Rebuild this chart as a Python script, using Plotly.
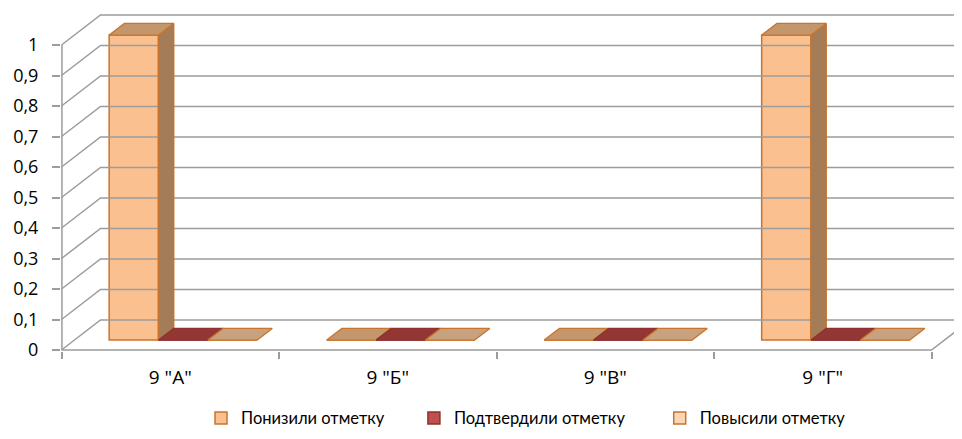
import plotly.graph_objects as go

categories = ['9 "А"', '9 "Б"', '9 "В"', '9 "Г"']
series_names = ["Понизили отметку", "Подтвердили отметку", "Повысили отметку"]
ponizili = [1, 0, 0, 1]
podtverdili = [0, 0, 0, 0]
povysili = [0, 0, 0, 0]
y_ticks = [0, 0.1, 0.2, 0.3, 0.4, 0.5, 0.6, 0.7, 0.8, 0.9, 1]

values = [ponizili, podtverdili, povysili]
front_col = ["#FAC090", "#C0504D", "#FCD5B5"]
top_col = ["#C4966C", "#943634", "#C8A27F"]
side_col = ["#A57C58", "#7A2B29", "#A88B70"]
edge_col = ["#C8742C", "#8C3230", "#C8742C"]

# fake 3d: depth offsets in axis units (full depth of the box)
DX, DY = 39 / 217.5, 30 / 305
d0, d1 = 0.33, 0.72
bw = 0.2267
start = -0.34

grid = "#9c9c9c"
fig = go.Figure()

# walls: left side diagonals and back gridlines
xs, ys = [], []
for v in y_ticks:
    xs += [-0.5, -0.5 + DX, 4.0, None]
    ys += [v, v + DY, v + DY, None]
xs += [-0.5, 3.5, 3.5 + DX, None, -0.5 + 0.002, -0.5 + 0.002]
ys += [0, 0, DY, None, 0, 1]
fig.add_trace(go.Scatter(x=xs, y=ys, mode="lines", line=dict(color=grid, width=1.5),
                         hoverinfo="skip", showlegend=False))

# front faces as bars, each series in its own legend box
legend_x = [0.1554, 0.3917, 0.6645]
for j, name in enumerate(series_names):
    lg = "legend" if j == 0 else "legend%d" % (j + 1)
    fig.add_trace(go.Bar(
        x=list(range(len(categories))), y=values[j], base=d0 * DY,
        width=bw, offset=start + j * bw + d0 * DX, name=name, legend=lg,
        marker=dict(color=front_col[j], line=dict(color=edge_col[j], width=1.5)),
    ))

# side and top faces
for j in range(len(series_names)):
    sx, sy, tx, ty = [], [], [], []
    for i, v in enumerate(values[j]):
        x0 = i + start + j * bw
        x1 = x0 + bw
        if v > 0:
            sx += [x1 + d0 * DX, x1 + d1 * DX, x1 + d1 * DX, x1 + d0 * DX, x1 + d0 * DX, None]
            sy += [d0 * DY, d1 * DY, v + d1 * DY, v + d0 * DY, d0 * DY, None]
        tx += [x0 + d0 * DX, x1 + d0 * DX, x1 + d1 * DX, x0 + d1 * DX, x0 + d0 * DX, None]
        ty += [v + d0 * DY, v + d0 * DY, v + d1 * DY, v + d1 * DY, v + d0 * DY, None]
    if sx:
        fig.add_trace(go.Scatter(x=sx, y=sy, mode="lines", fill="toself", fillcolor=side_col[j],
                                 line=dict(color=edge_col[j], width=1.5), hoverinfo="skip",
                                 showlegend=False))
    fig.add_trace(go.Scatter(x=tx, y=ty, mode="lines", fill="toself", fillcolor=top_col[j],
                             line=dict(color=edge_col[j], width=1.2), hoverinfo="skip",
                             showlegend=False))

leg = dict(orientation="h", xanchor="left", y=-0.145, yanchor="top",
           font=dict(size=16.5), itemwidth=30, bgcolor="rgba(0,0,0,0)")
tick_font = "Open Sans, DejaVu Sans, sans-serif"
x_start = -0.5 - 0.5 / 217.5
# page body keeps an 8px margin, so the figure is 8px smaller than the window
fig.update_layout(
    width=954, height=431, autosize=False,
    margin=dict(l=53, r=0, t=0, b=88, autoexpand=False),
    barmode="overlay", separators=", ",
    plot_bgcolor="white", paper_bgcolor="white",
    font=dict(family="Lato, Liberation Sans, sans-serif", size=16, color="black"),
    xaxis=dict(range=[x_start, x_start + 901 / 217.5], showgrid=False, zeroline=False,
               tickvals=list(range(len(categories))), ticktext=categories, ticks="",
               ticklabelstandoff=13, fixedrange=True, automargin=False,
               tickfont=dict(family=tick_font, size=19),
               minor=dict(tickvals=[-0.5, 0.5, 1.5, 2.5, 3.5], ticks="outside", ticklen=7,
                          tickcolor=grid, tickwidth=1.5)),
    yaxis=dict(range=[-1 / 305, 342 / 305], showgrid=False, zeroline=False,
               tickvals=y_ticks, ticks="outside", ticklen=8, tickcolor=grid, tickwidth=1.5,
               ticklabelstandoff=10, fixedrange=True, automargin=False,
               tickfont=dict(family=tick_font, size=18)),
    legend=dict(leg, x=legend_x[0]),
    legend2=dict(leg, x=legend_x[1]),
    legend3=dict(leg, x=legend_x[2]),
)

fig.write_html("out.html")
